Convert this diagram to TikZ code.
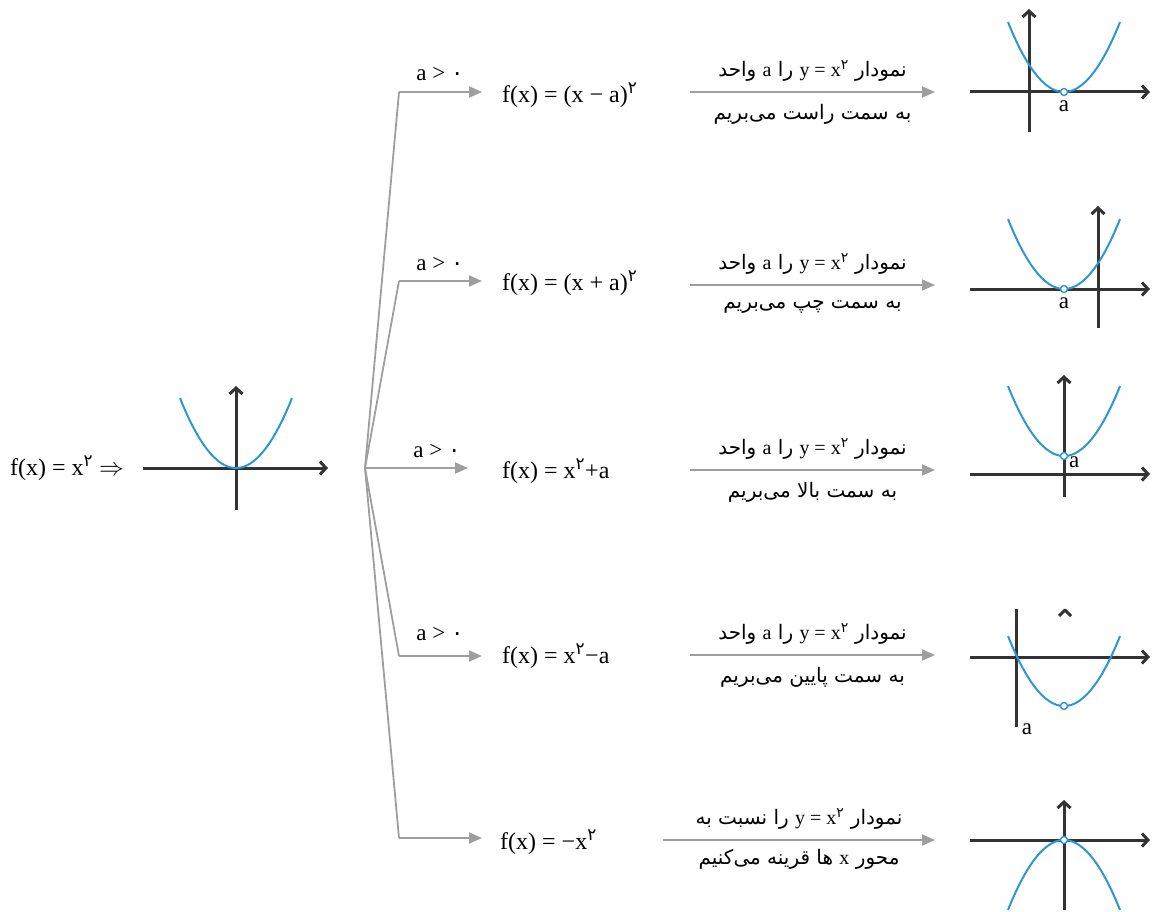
\documentclass[tikz,border=0pt]{standalone}
\usepackage{fontspec}
\setmainfont{Liberation Serif}
\newfontfamily\fa[Script=Arabic]{DejaVu Sans}
\TeXXeTstate=1
\usepackage{tikz}
\usetikzlibrary{arrows.meta,positioning,calc}

\definecolor{curveblue}{HTML}{2E96D3}
\definecolor{axisdark}{HTML}{333333}
\definecolor{linkgray}{HTML}{9E9E9E}

\newcommand{\sqr}{\textsuperscript{\fa ۲}}
\newcommand{\nil}{{\fa ۰}}
\newcommand{\lat}[1]{\beginL{\rmfamily #1}\endL{}}

\tikzset{
  link/.style={draw=linkgray, line width=1.8pt},
  linkarrow/.style={link, -{Triangle[length=13pt,width=11pt]}},
  axis/.style={draw=axisdark, line width=3pt},
  axisarrow/.style={axis, -{Straight Barb[length=6pt,width=13pt]}},
  curve/.style={draw=curveblue, line width=2pt},
  vertex/.style={circle, draw=curveblue, fill=white, line width=1.4pt, inner sep=0pt, minimum size=7pt},
  formula/.style={anchor=west, inner sep=0pt, font=\fontsize{24}{28}\selectfont},
  cond/.style={inner sep=0pt, font=\fontsize{23}{27}\selectfont},
  note/.style={inner sep=0pt, font=\fa\fontsize{20}{24}\selectfont},
  lbl/.style={inner sep=0pt, font=\fontsize{23}{27}\selectfont}
}

\begin{document}
\begin{tikzpicture}[x=1pt, y=-1pt, line join=round]
\useasboundingbox (0,0) rectangle (1153,912);

% start graph
\node[formula] (f0) at (10,468) {f(x) = x\sqr\ $\Rightarrow$};
\draw[axisarrow] (143,468) -- (328,468);
\draw[axisarrow] (236,510) -- (236,386);
\draw[curve] plot[domain=-56:56, samples=60] ({236+\x},{468-0.0223*\x*\x});

% branches
\coordinate (root) at (365,468);
\coordinate (k1) at (399,92);
\coordinate (k2) at (399,281);
\coordinate (k4) at (399,656);
\coordinate (k5) at (399,838);

\node[formula] (f1) at (502,95) {f(x) = (x − a)\sqr};
\node[formula] (f2) at (502,283) {f(x) = (x + a)\sqr};
\node[formula] (f3) at (502,471) {f(x) = x\sqr+a};
\node[formula] (f4) at (502,656) {f(x) = x\sqr−a};
\node[formula] (f5) at (500,842) {f(x) = −x\sqr};

\draw[link] (root) -- (k1);
\draw[link] (root) -- (k2);
\draw[link] (root) -- (k4);
\draw[link] (root) -- (k5);
\draw[linkarrow] (k1) -- (k1 -| 482,0);
\draw[linkarrow] (k2) -- (k2 -| 482,0);
\draw[linkarrow] (root) -- (root -| 468,0);
\draw[linkarrow] (k4) -- (k4 -| 482,0);
\draw[linkarrow] (k5) -- (k5 -| 482,0);

\node[cond] (c1) at (440,74) {a > \nil};
\node[cond] (c2) at (440,264) {a > \nil};
\node[cond] (c3) at (437,451) {a > \nil};
\node[cond] (c4) at (440,634) {a > \nil};

% long arrows with notes
\foreach \i/\y in {1/92, 2/285, 3/470, 4/655}{
  \coordinate (s\i) at (690,\y);
  \coordinate (e\i) at (935,\y);
  \draw[linkarrow] (s\i) -- (e\i);
  \node[note] (t\i) at ($(s\i)!0.5!(e\i)+(0,-21)$) {\beginR نمودار \lat{y = x\sqr} را \lat{a} واحد\endR};
}
\coordinate (s5) at (663,840);
\coordinate (e5) at (935,840);
\draw[linkarrow] (s5) -- (e5);
\node[note] (t5) at ($(s5)!0.5!(e5)+(0,-21)$) {\beginR نمودار \lat{y = x\sqr} را نسبت به\endR};

\node[note] (b1) at ($(s1)!0.5!(e1)+(0,22)$) {\beginR به سمت راست می^^^^200cبریم\endR};
\node[note] (b2) at ($(s2)!0.5!(e2)+(0,22)$) {\beginR به سمت چپ می^^^^200cبریم\endR};
\node[note] (b3) at ($(s3)!0.5!(e3)+(0,22)$) {\beginR به سمت بالا می^^^^200cبریم\endR};
\node[note] (b4) at ($(s4)!0.5!(e4)+(0,22)$) {\beginR به سمت پایین می^^^^200cبریم\endR};
\node[note] (b5) at ($(s5)!0.5!(e5)+(0,19)$) {\beginR محور \lat{x} ها قرینه می^^^^200cکنیم\endR};

% graph 1: shift right
\draw[axisarrow] (970,92) -- (1150,92);
\draw[axisarrow] (1029,132) -- (1029,9);
\draw[curve] plot[domain=-56:56, samples=60] ({1064+\x},{92-0.0223*\x*\x});
\node[vertex] (v1) at (1064,92) {};
\node[lbl, below=4pt of v1] (a1) {a};

% graph 2: shift left
\draw[axisarrow] (970,289) -- (1150,289);
\draw[axisarrow] (1098,328) -- (1098,206);
\draw[curve] plot[domain=-56:56, samples=60] ({1064+\x},{289-0.0223*\x*\x});
\node[vertex] (v2) at (1064,289) {};
\node[lbl, below=4pt of v2] (a2) {a};

% graph 3: shift up
\draw[axisarrow] (970,474) -- (1150,474);
\draw[axisarrow] (1064,497) -- (1064,375);
\draw[curve] plot[domain=-56:56, samples=60] ({1064+\x},{456-0.0223*\x*\x});
\node[vertex] (v3) at (1064,456) {};
\node[lbl, below right=-2pt and 2pt of v3] (a3) {a};

% graph 4: shift down
\draw[axisarrow] (970,657) -- (1150,657);
\draw[axis] (1016,609) -- (1016,727);
\draw[axis] (1059,616) -- (1065,610) -- (1071,616);
\draw[curve] plot[domain=-56:56, samples=60] ({1064+\x},{706-0.0223*\x*\x});
\node[vertex] (v4) at (1064,706) {};
\node[lbl] (a4) at (1027,729) {a};

% graph 5: reflect
\draw[axisarrow] (970,840) -- (1150,840);
\draw[axisarrow] (1064,910) -- (1064,800);
\draw[curve] plot[domain=-56:56, samples=60] ({1064+\x},{840+0.0223*\x*\x});
\node[vertex] (v5) at (1064,840) {};
\end{tikzpicture}
\end{document}
